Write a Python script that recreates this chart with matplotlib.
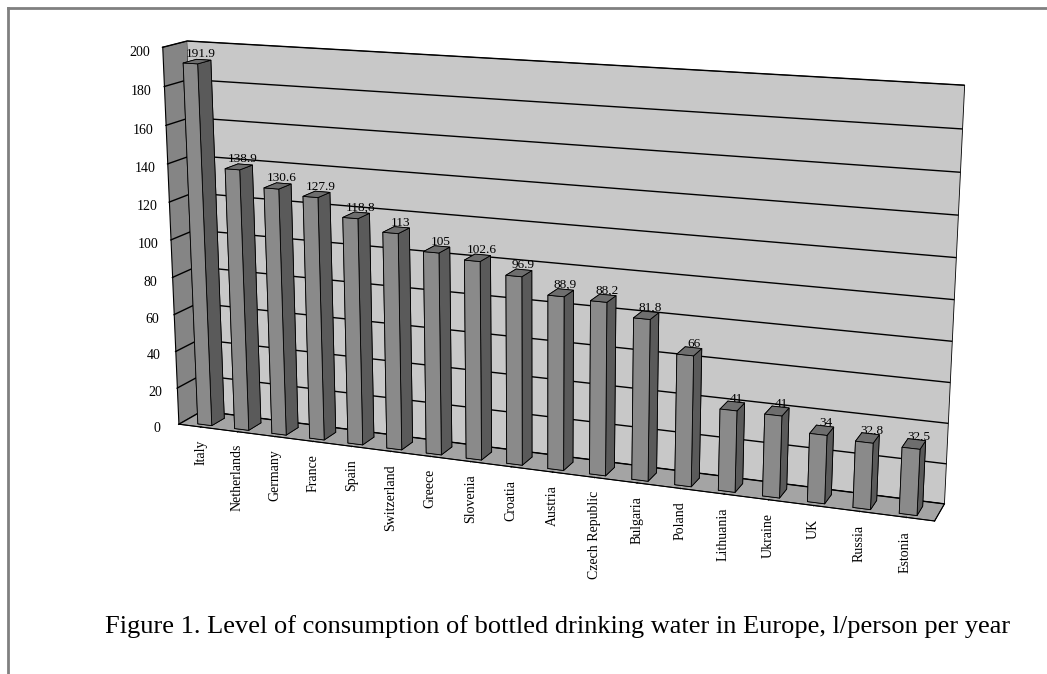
import matplotlib
matplotlib.use('Agg')
import matplotlib.pyplot as plt
import numpy as np

countries = ['Italy', 'Netherlands', 'Germany', 'France', 'Spain', 'Switzerland',
             'Greece', 'Slovenia', 'Croatia', 'Austria', 'Czech Republic', 'Bulgaria',
             'Poland', 'Lithuania', 'Ukraine', 'UK', 'Russia', 'Estonia']
values = [191.9, 138.9, 130.6, 127.9, 118.8, 113, 105, 102.6, 96.9, 88.9, 88.2, 81.8,
          66, 41, 41, 34, 32.8, 32.5]
value_labels = ['191.9', '138.9', '130.6', '127.9', '118,8', '113', '105', '102.6', '96.9',
                '88,9', '88,2', '81,8', '66', '41', '41', '34', '32,8', '32,5']
yticks = [0, 20, 40, 60, 80, 100, 120, 140, 160, 180, 200]
caption = 'Figure 1. Level of consumption of bottled drinking water in Europe, l/person per year'

plt.rcParams['font.family'] = ['Liberation Serif', 'DejaVu Serif']

fig = plt.figure(figsize=(10.47, 6.74), dpi=100)
ax = fig.add_axes([-0.012, 0.099, 1.04, 0.98], projection='3d')
ax.set_proj_type('persp', focal_length=0.6)
ax.view_init(elev=14, azim=-69)

n = len(countries)
x = np.arange(n)
bw, bd = 0.38, 0.55
y0 = 0.17
face_cols = ['#6a6a6a', '#6e6e6e', '#8a8a8a', '#8a8a8a', '#8a8a8a', '#5a5a5a']
for xi, v in zip(x, values):
    col = ax.bar3d(xi - bw / 2, y0, 0, bw, bd, v,
                   color=face_cols, edgecolor='black', linewidth=0.6, shade=False)
    col.set_clip_on(False)

for xi, v, s in zip(x, values, value_labels):
    t = ax.text(xi + 0.1, y0 + bd / 2, v + 1, s, fontsize=9.5, ha='center', va='bottom')
    t.set_clip_on(False)

ax.set_xlim(-0.6, n - 0.4)
ax.set_ylim(0, 1)
ax.set_zlim(0, 200)
ax.set_box_aspect((4.6, 0.28, 2.3), zoom=1.345)

ax.set_xticks(x)
ax.set_xticklabels(countries, rotation=90, fontsize=10)
ax.tick_params(axis='x', pad=0)
ax.set_yticks([])
ax.set_zticks(yticks)
ax.set_zticklabels([str(t) for t in yticks], fontsize=10)
ax.tick_params(axis='z', pad=0)
ax.zaxis.set_ticks_position('lower')

ax.xaxis.set_pane_color('#858585')
ax.yaxis.set_pane_color('#c8c8c8')
ax.zaxis.set_pane_color('#a4a4a4')
for a in (ax.xaxis, ax.yaxis, ax.zaxis):
    a.pane.set_edgecolor('black')
    a.pane.set_linewidth(0.6)
ax.xaxis._axinfo['grid'].update(color=(0, 0, 0, 0))
ax.yaxis._axinfo['grid'].update(color=(0, 0, 0, 0))
ax.zaxis._axinfo['grid'].update(color='black', linewidth=1.0)

fig.text(0.533, 0.07, caption, fontsize=19, ha='center', va='center')

fig.add_artist(plt.Line2D([0.008, 1.0], [0.988, 0.988], color='#808080', lw=2))
fig.add_artist(plt.Line2D([0.008, 0.008], [0.0, 0.988], color='#808080', lw=2))

fig.savefig('out.png', dpi=100)
